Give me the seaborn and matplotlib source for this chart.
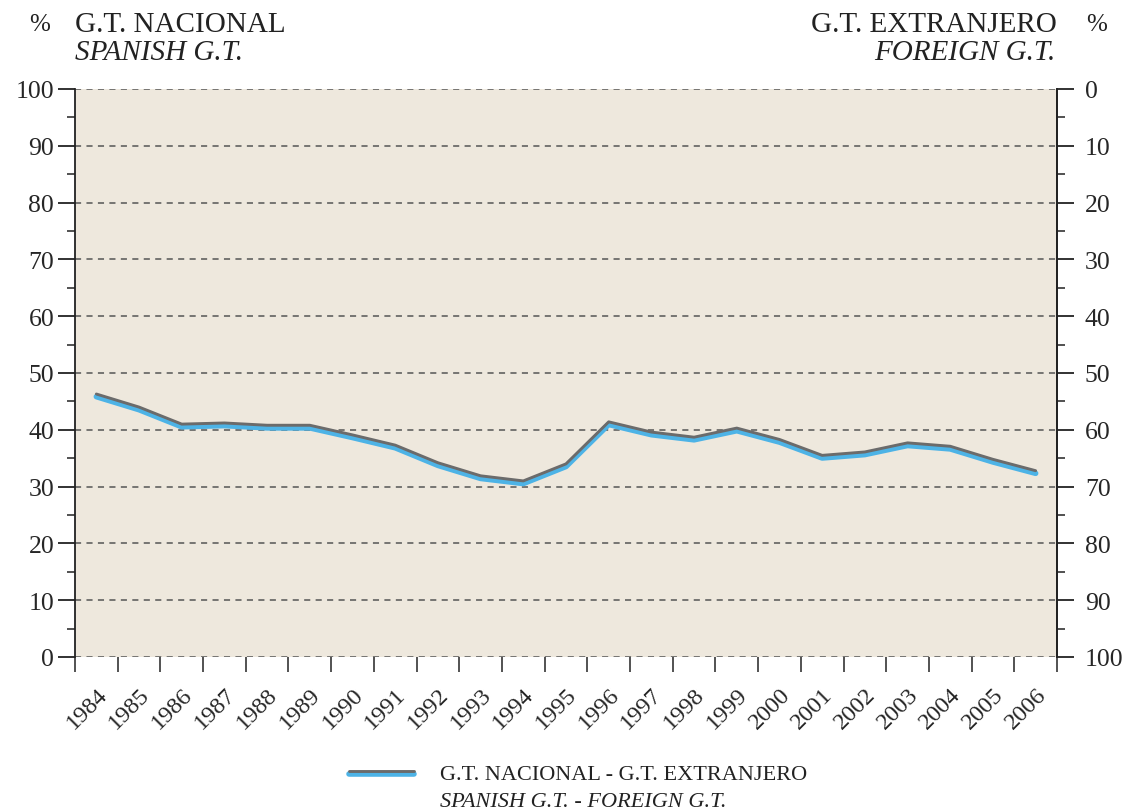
import numpy as np
import pandas as pd
import matplotlib
matplotlib.use("Agg")
import matplotlib.pyplot as plt
import matplotlib.patheffects as pe
from matplotlib.lines import Line2D
from matplotlib.ticker import MultipleLocator, FixedLocator
import seaborn as sns

# datos
years = list(range(1984, 2007))
nacional = [46.3, 44.0, 41.0, 41.2, 40.8, 40.8, 39.1, 37.3, 34.2, 31.9, 31.0,
            34.0, 41.4, 39.6, 38.7, 40.3, 38.3, 35.5, 36.1, 37.7, 37.1, 34.8, 32.8]
y_ticks = list(range(0, 101, 10))

df = pd.DataFrame({"pos": np.arange(len(years)), "valor": nacional})

sns.set_style("ticks")
plt.rcParams['font.family'] = ['Liberation Serif', 'DejaVu Serif']
plt.rcParams['text.color'] = '#222222'

BG = '#EEE8DD'
AZUL = '#4DB3E6'
GRIS = '#6B6B6B'
TICK_FS = 18.5


def efecto():
    return [pe.SimpleLineShadow(offset=(0, -1.9), shadow_color=AZUL,
                                alpha=1, rho=1, linewidth=4.0),
            pe.Normal()]


fig = plt.figure(figsize=(11.29, 8.12), dpi=100)
ax = fig.add_axes([75 / 1129, 1 - 658 / 812, 982 / 1129, 568 / 812])
ax.set_facecolor(BG)

sns.lineplot(data=df, x="pos", y="valor", ax=ax, color=GRIS, linewidth=2.1,
             path_effects=efecto())

ax.set_xlim(-0.5, len(years) - 0.5)
ax.set_ylim(0, 100)
ax.set_xlabel("")
ax.set_ylabel("")

# grid
for v in y_ticks:
    ax.axhline(v, color='#555555', linewidth=1.1, linestyle=(0, (4, 3.5)), zorder=1)

for s in ['top', 'bottom']:
    ax.spines[s].set_visible(False)
for s in ['left', 'right']:
    ax.spines[s].set_color('#222222')
    ax.spines[s].set_linewidth(1.3)

# eje x: etiquetas en el centro, marcas en los bordes
ax.xaxis.set_major_locator(FixedLocator(np.arange(len(years))))
ax.set_xticklabels([str(y) for y in years], rotation=45, ha='right',
                   rotation_mode='anchor', fontsize=17.5)
ax.xaxis.set_minor_locator(FixedLocator(np.arange(len(years) + 1) - 0.5))
ax.tick_params(axis='x', which='major', length=0, pad=19)
ax.tick_params(axis='x', which='minor', length=11, width=1.3, color='#444444')

ax.yaxis.set_major_locator(FixedLocator(y_ticks))
ax.yaxis.set_minor_locator(MultipleLocator(5))
ax.tick_params(axis='y', which='major', length=12, width=1.3, pad=3,
               labelsize=TICK_FS, color='#222222')
ax.tick_params(axis='y', which='minor', length=6, width=1.1, color='#222222')

ax2 = ax.twinx()
ax2.set_ylim(100, 0)
ax2.yaxis.set_major_locator(FixedLocator(y_ticks))
ax2.yaxis.set_minor_locator(MultipleLocator(5))
ax2.tick_params(axis='y', which='major', length=12, width=1.3, pad=8,
                labelsize=TICK_FS, color='#222222')
ax2.tick_params(axis='y', which='minor', length=6, width=1.1, color='#222222')
for s in ['top', 'bottom', 'left']:
    ax2.spines[s].set_visible(False)
ax2.spines['right'].set_color('#222222')
ax2.spines['right'].set_linewidth(1.3)

# cabeceras
def fy(py):
    return 1 - py / 812

fig.text(40 / 1129, fy(25), "%", fontsize=18, ha='center', va='center')
fig.text(75 / 1129, fy(25), "G.T. NACIONAL", fontsize=21, ha='left', va='center')
fig.text(75 / 1129, fy(53), "SPANISH G.T.", fontsize=21, ha='left', va='center',
         style='italic')
fig.text(1057 / 1129, fy(25), "G.T. EXTRANJERO", fontsize=21, ha='right', va='center')
fig.text(1055 / 1129, fy(53), "FOREIGN G.T.", fontsize=21, ha='right', va='center',
         style='italic')
fig.text(1097 / 1129, fy(25), "%", fontsize=18, ha='center', va='center')

# leyenda
handle = Line2D([], [], color=GRIS, linewidth=2.1, path_effects=efecto())
blank = Line2D([], [], color='none')
leg = fig.legend([handle, blank],
                 ["G.T. NACIONAL - G.T. EXTRANJERO", "SPANISH G.T. - FOREIGN G.T."],
                 loc='upper left', bbox_to_anchor=(338 / 1129, fy(753)),
                 frameon=False, fontsize=16, handlelength=2.9,
                 handletextpad=1.2, labelspacing=0.3, borderpad=0)
leg.get_texts()[1].set_style('italic')

fig.savefig("out.png", dpi=100, facecolor='white')
